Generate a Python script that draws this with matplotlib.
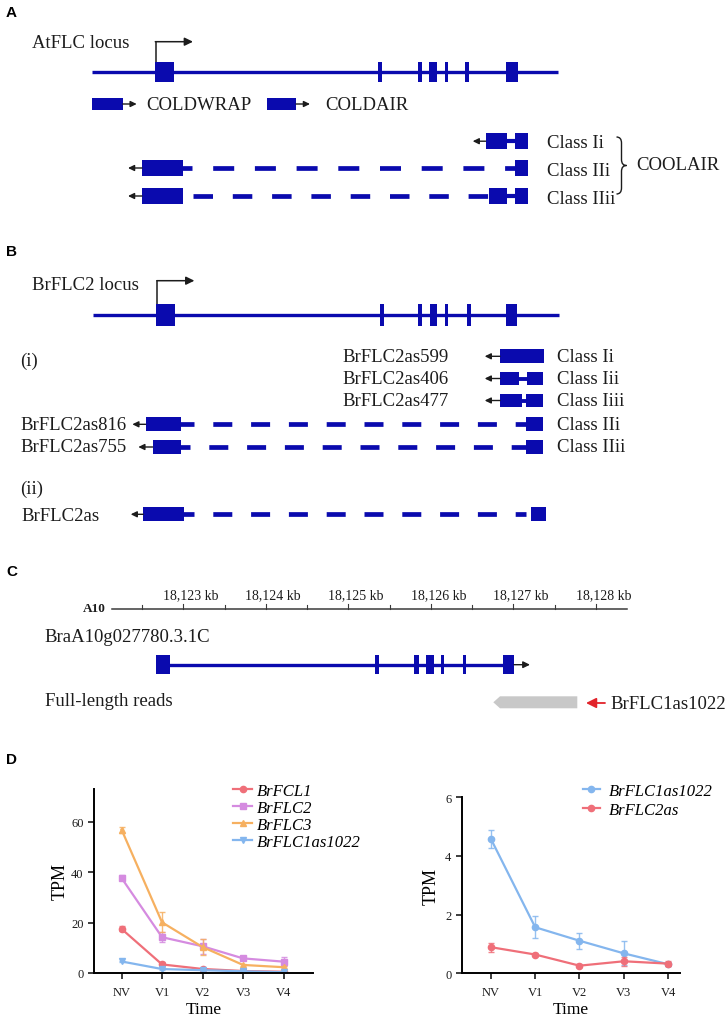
import numpy as np
import matplotlib
matplotlib.use("Agg")
import matplotlib.pyplot as plt
from matplotlib.patches import Rectangle, Polygon, PathPatch
from matplotlib.path import Path

plt.rcParams["lines.scale_dashes"] = False
plt.rcParams["font.family"] = "Liberation Serif"

SANS = "Liberation Sans"
BLUE = "#0a0aae"
DARK = "#1c1c1c"

# ---- gene models (x in drawing units across the figure) ----
at_locus_exons = [(155, 174), (378, 382), (418, 422), (429, 437), (445, 448.5), (465.5, 469), (506, 518)]
coldwrap_exon = (92, 122.7)
coldair_exon = (266.7, 296)
coolair_classes = ["Class Ii", "Class IIi", "Class IIii"]
coolair_exons = [
    [(485.7, 507.3), (515.3, 528)],
    [(142, 183), (515, 528)],
    [(142, 183), (489, 507), (515, 528)],
]

br_locus_exons = [(156.5, 175), (380, 384), (418.5, 422.5), (430.5, 437.5), (445, 448.5), (467, 471), (506, 517)]
br_short_names = ["BrFLC2as599", "BrFLC2as406", "BrFLC2as477"]
br_short_classes = ["Class Ii", "Class Iii", "Class Iiii"]
br_short_exons = [[(500, 544)], [(500, 519.3), (526.7, 542.7)], [(500, 522), (526, 543)]]
br_long_names = ["BrFLC2as816", "BrFLC2as755"]
br_long_classes = ["Class IIi", "Class IIii"]
br_long_exons = [[(145.7, 180.7), (526, 542.7)], [(152.7, 180.7), (526, 542.7)]]
br_ii_exons = [(143.3, 184.3), (530.7, 546)]

# panel C: genome ruler (kb) and gene model
ruler_kb = [18123, 18124, 18125, 18126, 18127, 18128]
c_gene_exons = [(155.7, 170), (375, 379), (414.3, 419), (425.7, 434), (441, 444), (463, 466), (503.3, 514)]

# ---- panel D: expression (TPM) ----
time_labels = ["NV", "V1", "V2", "V3", "V4"]
brfcl1 = [17.5, 3.4, 1.6, 0.8, 0.5]
brfcl1_err = [1.0, 0.8, 0.3, 0.2, 0.2]
brflc2 = [37.7, 14.2, 10.6, 5.8, 4.5]
brflc2_err = [1.0, 2.0, 3.0, 0.7, 1.7]
brflc3 = [56.9, 20.1, 10.3, 3.2, 2.3]
brflc3_err = [1.2, 4.0, 3.0, 0.5, 0.4]
brflc1as1022 = [4.58, 1.57, 1.11, 0.68, 0.31]
brflc1as1022_err = [0.30, 0.38, 0.27, 0.41, 0.05]
brflc2as = [0.89, 0.64, 0.26, 0.41, 0.33]
brflc2as_err = [0.16, 0.06, 0.05, 0.15, 0.08]

fig = plt.figure(figsize=(7.25, 10.2), dpi=100)
ax = fig.add_axes([0, 0, 1, 1])
ax.set_xlim(0, 725)
ax.set_ylim(1020, 0)
ax.axis("off")


def txt(x, y, s, size=13.5, **kw):
    ax.text(x, y, s, fontsize=size, va="center", color=DARK, **kw)


def letter(x, y, s):
    ax.text(x, y, s, fontsize=11, family=SANS, weight="bold", va="center", color="black")


def boxes(y, exons, h):
    for x0, x1 in exons:
        ax.add_patch(Rectangle((x0, y - h / 2), x1 - x0, h, facecolor=BLUE, edgecolor="none", zorder=3))


def solid(y, x0, x1, lw=2.4, color=BLUE):
    ax.plot([x0, x1], [y, y], color=color, lw=lw, solid_capstyle="butt", zorder=2)


def dashed(y, x0, x1, on, off, lw=3.4):
    ax.plot([x0, x1], [y, y], color=BLUE, lw=lw, ls=(0, (on * 0.72, off * 0.72)),
            dash_capstyle="butt", zorder=2)


def arrow(x_from, x_to, y, scale=9, lw=1.0):
    ax.annotate("", xy=(x_to, y), xytext=(x_from, y),
                arrowprops=dict(arrowstyle="-|>,head_length=0.45,head_width=0.22", color=DARK,
                                lw=lw, shrinkA=0, shrinkB=0, mutation_scale=scale))


def tss(x, y_top, y_up, x_end):
    ax.plot([x, x], [y_top, y_up], color=DARK, lw=1.1)
    arrow(x - 0.5, x_end, y_up, scale=11, lw=1.1)


# ================= A =================
letter(6, 13, "A")
txt(32.4, 44, "AtFLC locus")
solid(73.3, 92, 557.7)
boxes(73.3, at_locus_exons, 20)
tss(155.8, 63.3, 42.7, 193)

boxes(105, [coldwrap_exon], 11.4)
arrow(coldwrap_exon[1], 136.7, 105, scale=8)
txt(146.7, 105.5, "COLDWRAP")
boxes(105, [coldair_exon], 11.4)
arrow(coldair_exon[1], 310, 105, scale=8)
txt(325, 105.5, "COLDAIR")

rows_a = [142.2, 169, 197]
# Class Ii
boxes(rows_a[0], coolair_exons[0], 15.7)
solid(rows_a[0], 507, 516, lw=3.0)
arrow(485.7, 472.7, rows_a[0], scale=8)
# Class IIi
boxes(rows_a[1], coolair_exons[1], 16)
dashed(rows_a[1], 171.3, 515, 21, 20.7)
arrow(142, 128, rows_a[1], scale=8)
# Class IIii
boxes(rows_a[2], coolair_exons[2], 16)
dashed(rows_a[2], 193, 489, 19.5, 19.8)
solid(rows_a[2], 507, 516, lw=3.0)
arrow(142, 128, rows_a[2], scale=8)
for yy, name in zip([144, 171.5, 199], coolair_classes):
    txt(546.7, yy, name)

bx, top, bot = 619.5, 138, 195
mid = (top + bot) / 2
verts = [(bx - 3, top), (bx + 2, top), (bx + 2, top + 6), (bx + 2, mid - 6),
         (bx + 2, mid), (bx + 7, mid), (bx + 2, mid), (bx + 2, mid + 6),
         (bx + 2, bot - 6), (bx + 2, bot), (bx - 3, bot)]
codes = [Path.MOVETO, Path.CURVE3, Path.CURVE3, Path.LINETO, Path.CURVE3, Path.CURVE3,
         Path.CURVE3, Path.CURVE3, Path.LINETO, Path.CURVE3, Path.CURVE3]
ax.add_patch(PathPatch(Path(verts, codes), facecolor="none", edgecolor=DARK, lw=1.0))
txt(636, 165, "COOLAIR")

# ================= B =================
letter(6, 252, "B")
txt(32.4, 285.5, "BrFLC2 locus")
solid(316, 93.5, 559)
boxes(316, br_locus_exons, 21.7)
tss(157.4, 305.3, 281.7, 194.4)

txt(20, 361, "(i)")
rows_b = [357.3, 379.5, 401.5]
for yy, name, cls, ex in zip(rows_b, br_short_names, br_short_classes, br_short_exons):
    boxes(yy, ex, 13.8)
    if len(ex) > 1:
        solid(yy, ex[0][1], ex[1][0], lw=2.8)
    arrow(500, 484.7, yy, scale=8)
    txt(449, yy, name, ha="right")
    txt(557, yy, cls)

rows_long = [425.3, 448]
dash_starts = [174.9, 171.2]
arrow_tips = [132.3, 138.3]
for yy, name, cls, ex, ds, tip in zip(rows_long, br_long_names, br_long_classes, br_long_exons,
                                      dash_starts, arrow_tips):
    boxes(yy, ex, 14)
    dashed(yy, ds, 526, 19, 18.8)
    arrow(ex[0][0], tip, yy, scale=8)
    txt(20, yy, name)
    txt(557, yy, cls)

txt(20, 489, "(ii)")
boxes(515.3, br_ii_exons, 14)
dashed(515.3, 175.2, 526, 19, 18.8)
arrow(143.3, 130.7, 515.3, scale=8)
txt(21, 517, "BrFLC2as")

# ================= C =================
letter(6, 572, "C")


def kb_x(kb):
    return 183.3 + (kb - ruler_kb[0]) * 82.5


ax.plot([112.3, 626.7], [610, 610], color="#3a3a3a", lw=1.1)
for kb in ruler_kb:
    ax.plot([kb_x(kb)] * 2, [610, 604.5], color="#3a3a3a", lw=0.8)
    ax.text(kb_x(kb) + 7.5, 596, f"{kb:,} kb", fontsize=10, ha="center", va="center", color=DARK)
for kb in np.array(ruler_kb) - 0.5:
    ax.plot([kb_x(kb)] * 2, [610, 605.5], color="#3a3a3a", lw=0.8)
ax.text(105.7, 609, "A10", fontsize=9.5, weight="bold", ha="right", va="center", color=DARK)

txt(44, 638, "BraA10g027780.3.1C")
solid(665.7, 168, 505, lw=2.4)
boxes(665.7, c_gene_exons, 19)
arrow(514, 530, 665.7, scale=9)

txt(45, 702, "Full-length reads")
ax.add_patch(Polygon([(577.3, 697.3), (500, 697.3), (493.3, 703.3), (500, 709.3), (577.3, 709.3)],
                     closed=True, facecolor="#c8c8c8", edgecolor="none"))
ax.annotate("", xy=(586, 704), xytext=(605, 704),
            arrowprops=dict(arrowstyle="-|>,head_length=0.5,head_width=0.25", color="#e2232a",
                            lw=1.3, shrinkA=0, shrinkB=0, mutation_scale=12))
txt(610, 704.5, "BrFLC1as1022")

# ================= D =================
letter(6, 760, "D")

x = np.arange(len(time_labels))
axl = fig.add_axes([94 / 725, 46 / 1020, 218.7 / 725, 184 / 1020])
axr = fig.add_axes([461.7 / 725, 45.7 / 1020, 218.3 / 725, 176 / 1020])

left_series = [
    ("BrFCL1", brfcl1, brfcl1_err, "#ef6f79", "o", 4.5),
    ("BrFLC2", brflc2, brflc2_err, "#d58be0", "s", 4),
    ("BrFLC3", brflc3, brflc3_err, "#f6b060", "^", 5),
    ("BrFLC1as1022", brflc1as1022, brflc1as1022_err, "#84b6ee", "v", 5),
]
right_series = [
    ("BrFLC1as1022", brflc1as1022, brflc1as1022_err, "#84b6ee", "o", 4.5),
    ("BrFLC2as", brflc2as, brflc2as_err, "#ef6f79", "o", 4.5),
]

for a, series in ((axl, left_series), (axr, right_series)):
    for name, vals, err, c, m, ms in series:
        a.errorbar(x, vals, yerr=err, fmt="none", ecolor=c, elinewidth=1.0, capsize=2.5,
                   capthick=1.0, alpha=0.85)
        a.plot(x, vals, color=c, marker=m, ms=ms, lw=1.6, label=name)
    a.spines[["top", "right"]].set_visible(False)
    a.spines[["left", "bottom"]].set_linewidth(1.4)
    a.tick_params(width=1.2, length=4, labelsize=9, colors=DARK)
    a.tick_params(axis="x", pad=5.5)
    a.set_xticks(x, time_labels)
    a.set_xlabel("Time", fontsize=12.5, labelpad=2)

axl.set_ylabel("TPM", fontsize=13, labelpad=1.5)
axr.set_ylabel("TPM", fontsize=13, labelpad=3.5)
axl.set_xlim(-0.68, 4.72)
axl.set_ylim(0, 73)
axl.set_yticks([0, 20, 40, 60])
axr.set_xlim(-0.66, 4.27)
axr.set_ylim(0, 6)
axr.set_yticks([0, 2, 4, 6])

legend_font = dict(family="Liberation Serif", style="italic", size=12)
axl.legend(loc="upper left", bbox_to_anchor=(233 / 725, 1 - 783.5 / 1020), bbox_transform=fig.transFigure,
           frameon=False, prop=legend_font, handlelength=1.15, handletextpad=0.3, labelspacing=0.07,
           borderpad=0, borderaxespad=0)
axr.legend(loc="upper left", bbox_to_anchor=(583 / 725, 1 - 783.5 / 1020), bbox_transform=fig.transFigure,
           frameon=False, prop=legend_font, handlelength=1.0, handletextpad=0.55, labelspacing=0.22,
           borderpad=0, borderaxespad=0)

fig.savefig("out.png", dpi=100)
